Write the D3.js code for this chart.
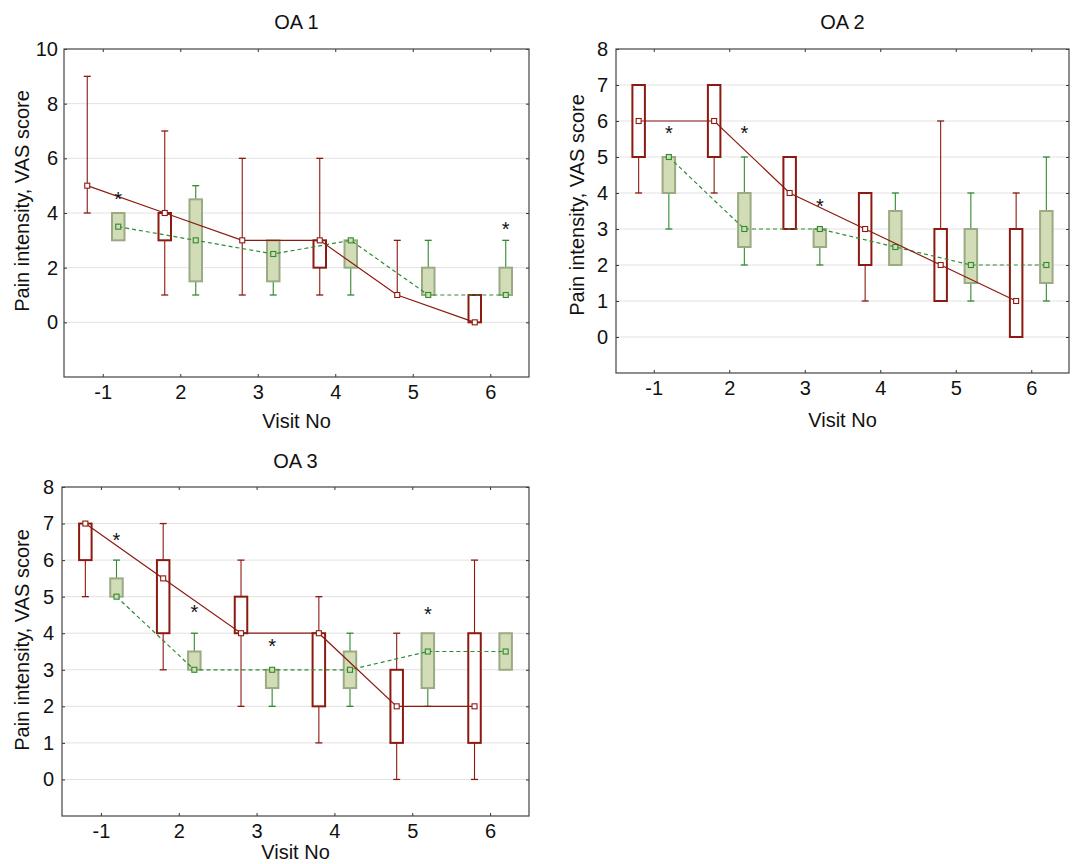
<html>
<head>
  <script src="https://d3js.org/d3.v7.min.js"></script>
  <style>
    body { margin: 0; background: white; }
    text { font-family: "Liberation Sans", Arial, Helvetica, sans-serif; fill: #111; }
    .tick text { font-size: 20px; }
    .grid line { stroke: #e2e2e2; }
  </style>
</head>
<body>
  <svg id="chart" width="1073" height="864"></svg>
  <script>
    // visit labels on the x axis
    const visits = ["-1", "2", "3", "4", "5", "6"];

    // box stats per visit: [min, q1, median, q3, max]
    const oa1Red = [[4, 5, 5, 5, 9], [1, 3, 4, 4, 7], [1, 3, 3, 3, 6], [1, 2, 3, 3, 6], [1, 1, 1, 1, 3], [0, 0, 0, 1, 1]];
    const oa1Green = [[3, 3, 3.5, 4, 4], [1, 1.5, 3, 4.5, 5], [1, 1.5, 2.5, 3, 3], [1, 2, 3, 3, 3], [1, 1, 1, 2, 3], [1, 1, 1, 2, 3]];
    const oa1Stars = [[0, 4.65], [5, 3.57]];

    const oa2Red = [[4, 5, 6, 7, 7], [4, 5, 6, 7, 7], [3, 3, 4, 5, 5], [1, 2, 3, 4, 4], [1, 1, 2, 3, 6], [0, 0, 1, 3, 4]];
    const oa2Green = [[3, 4, 5, 5, 5], [2, 2.5, 3, 4, 5], [2, 2.5, 3, 3, 3], [2, 2, 2.5, 3.5, 4], [1, 1.5, 2, 3, 4], [1, 1.5, 2, 3.5, 5]];
    const oa2Stars = [[0, 5.79], [1, 5.79], [2, 3.75]];

    const oa3Red = [[5, 6, 7, 7, 7], [3, 4, 5.5, 6, 7], [2, 4, 4, 5, 6], [1, 2, 4, 4, 5], [0, 1, 2, 3, 4], [0, 1, 2, 4, 6]];
    const oa3Green = [[5, 5, 5, 5.5, 6], [3, 3, 3, 3.5, 4], [2, 2.5, 3, 3, 3], [2, 2.5, 3, 3.5, 4], [2, 2.5, 3.5, 4, 4], [3, 3, 3.5, 4, 4]];
    const oa3Stars = [[0, 6.67], [1, 4.69], [2, 3.76], [4, 4.64]];

    const redColor = "#8c1a10";
    const greenColor = "#2e8b30";
    const greenFill = "#d2dcb6";
    const greenEdge = "#9aab84";

    let svg = d3.select("svg#chart");

    function drawPanel(p) {
      let g = svg.append("g").attr("transform", `translate(${p.left}, ${p.top})`);
      let w = p.width, h = p.height;

      let xScale = d3.scaleLinear([0.5, 6.5], [0, w]);
      let yScale = d3.scaleLinear(p.yDomain, [h, 0]);
      let pos = visits.map((v, i) => i + 1);

      // horizontal grid
      g.append("g").attr("class", "grid")
        .selectAll("line").data(p.yTicks.filter(t => t < p.yDomain[1]))
        .join("line")
        .attr("x1", 0).attr("x2", w)
        .attr("y1", d => yScale(d)).attr("y2", d => yScale(d));

      // axes, ticks pointing inwards
      let bottom = d3.axisBottom(xScale).tickValues(pos).tickFormat((d, i) => visits[i])
        .tickSize(-3).tickPadding(8);
      let gb = g.append("g").attr("transform", `translate(0, ${h})`).call(bottom);
      let left = d3.axisLeft(yScale).tickValues(p.yTicks).tickFormat(d3.format("d"))
        .tickSize(-3).tickPadding(p.labelGap);
      let gl = g.append("g").call(left);
      let gt = g.append("g").call(d3.axisTop(xScale).tickValues(pos).tickFormat("").tickSize(-3));
      let gr = g.append("g").attr("transform", `translate(${w}, 0)`)
        .call(d3.axisRight(yScale).tickValues(p.yTicks).tickFormat("").tickSize(-3));
      [gb, gl, gt, gr].forEach(a => {
        a.select(".domain").remove();
        a.selectAll(".tick line").attr("stroke", "#333");
        a.selectAll(".tick text").attr("fill", "#111");
      });

      // frame
      g.append("rect")
        .attr("x", 0).attr("y", 0).attr("width", w).attr("height", h)
        .attr("fill", "none").attr("stroke", "#444").attr("stroke-width", 1.2);

      let boxW = 12.5;
      let capW = 7;

      function series(data, offset, color, isGreen) {
        let sg = g.append("g");
        let cx = (d, i) => xScale(i + 1 + offset);

        // whiskers
        data.forEach((d, i) => {
          let x = cx(d, i);
          let [mn, q1, md, q3, mx] = d;
          let pieces = [];
          if (mn < q1) pieces.push([mn, q1]);
          if (mx > q3) pieces.push([q3, mx]);
          pieces.forEach(pc => {
            sg.append("line")
              .attr("x1", x).attr("x2", x)
              .attr("y1", yScale(pc[0])).attr("y2", yScale(pc[1]))
              .attr("stroke", color).attr("stroke-width", 1.1);
          });
          if (mn < q1) {
            sg.append("line").attr("x1", x - capW / 2).attr("x2", x + capW / 2)
              .attr("y1", yScale(mn)).attr("y2", yScale(mn))
              .attr("stroke", color).attr("stroke-width", 1.3);
          }
          if (mx > q3) {
            sg.append("line").attr("x1", x - capW / 2).attr("x2", x + capW / 2)
              .attr("y1", yScale(mx)).attr("y2", yScale(mx))
              .attr("stroke", color).attr("stroke-width", 1.3);
          }
        });

        // boxes
        sg.selectAll("rect.box").data(data.map((d, i) => ({ d, i })).filter(o => o.d[3] > o.d[1]))
          .join("rect")
          .attr("class", "box")
          .attr("x", o => cx(o.d, o.i) - boxW / 2)
          .attr("y", o => yScale(o.d[3]))
          .attr("width", boxW)
          .attr("height", o => yScale(o.d[1]) - yScale(o.d[3]))
          .attr("fill", isGreen ? greenFill : "white")
          .attr("stroke", isGreen ? greenEdge : redColor)
          .attr("stroke-width", 2);
        return sg;
      }

      function medianLine(data, offset, color, dashed) {
        let line = d3.line()
          .x((d, i) => xScale(i + 1 + offset))
          .y(d => yScale(d[2]));
        g.append("path")
          .attr("d", line(data))
          .attr("fill", "none")
          .attr("stroke", color)
          .attr("stroke-width", 1.2)
          .attr("stroke-dasharray", dashed ? "4,3" : null);
        g.append("g").selectAll("rect").data(data)
          .join("rect")
          .attr("x", (d, i) => xScale(i + 1 + offset) - 2.5)
          .attr("y", d => yScale(d[2]) - 2.5)
          .attr("width", 5).attr("height", 5)
          .attr("fill", dashed ? greenFill : "white")
          .attr("stroke", color).attr("stroke-width", 1.1);
      }

      series(p.red, -0.2, redColor, false);
      series(p.green, 0.2, greenColor, true);
      medianLine(p.green, 0.2, greenColor, true);
      medianLine(p.red, -0.2, redColor, false);

      // significance marks
      g.append("g").selectAll("text").data(p.stars)
        .join("text")
        .attr("x", d => xScale(d[0] + 1 + 0.2))
        .attr("y", d => yScale(d[1]) + 11)
        .attr("text-anchor", "middle")
        .style("font-size", "20px")
        .text("*");

      // titles
      svg.append("text")
        .attr("x", p.left + w / 2).attr("y", p.titleY)
        .attr("text-anchor", "middle")
        .style("font-size", "20px")
        .text(p.title);

      svg.append("text")
        .attr("x", p.left + w / 2).attr("y", p.xTitleY)
        .attr("text-anchor", "middle")
        .style("font-size", "20px")
        .text("Visit No");

      svg.append("text")
        .attr("transform", `translate(${p.yTitleX}, ${p.yTitleCenter}) rotate(-90)`)
        .attr("text-anchor", "middle")
        .style("font-size", "20px")
        .text("Pain intensity, VAS score");
    }

    drawPanel({
      title: "OA 1", left: 64, top: 49, width: 465, height: 328,
      yDomain: [-2, 10], yTicks: [0, 2, 4, 6, 8, 10], labelGap: 6,
      red: oa1Red, green: oa1Green, stars: oa1Stars,
      titleY: 29, xTitleY: 428, yTitleX: 29, yTitleCenter: 201
    });

    drawPanel({
      title: "OA 2", left: 616, top: 49, width: 453, height: 324,
      yDomain: [-1, 8], yTicks: [0, 1, 2, 3, 4, 5, 6, 7, 8], labelGap: 8,
      red: oa2Red, green: oa2Green, stars: oa2Stars,
      titleY: 29, xTitleY: 427, yTitleX: 584, yTitleCenter: 205
    });

    drawPanel({
      title: "OA 3", left: 62, top: 487, width: 467, height: 329,
      yDomain: [-1, 8], yTicks: [0, 1, 2, 3, 4, 5, 6, 7, 8], labelGap: 8,
      red: oa3Red, green: oa3Green, stars: oa3Stars,
      titleY: 468, xTitleY: 859, yTitleX: 29, yTitleCenter: 640
    });
  </script>
</body>
</html>
